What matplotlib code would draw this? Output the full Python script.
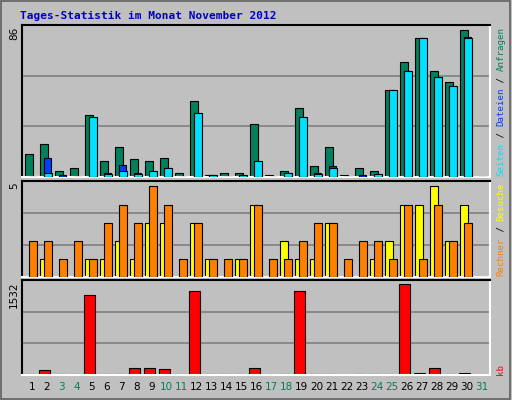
import matplotlib
matplotlib.use("Agg")
import matplotlib.pyplot as plt
from matplotlib.patches import Rectangle
import numpy as np

days = list(range(1, 32))
anfragen = [13,19,3.6,5.3,35.5,9.3,17,10.4,9.3,11,2.5,43.5,1.3,2.5,2.5,30.4,1.3,3.6,39.5,6.5,17,1.3,5.3,3.6,50,65.7,79.3,60.6,54.3,84,0]
dateien  = [0,11,1.3,0,33,2.5,7,2.5,1.5,5.3,0,34,1.3,0,0,7,0,2.5,34,2.5,6.5,0,1.3,1.5,50,60.6,79.3,57,52,80.4,0]
seiten   = [0,2.5,0,0,34.4,1.5,3.6,1.5,3.6,5.3,0,36.6,1.3,0,1.3,9.3,0,2.5,34.4,1.5,5.3,0,0,1.5,50,60.6,79.3,57,52,79.3,0]
besuche  = [0,1,0,0,1,1,2,1,3,3,0,3,1,0,1,4,0,2,1,1,3,0,0,1,2,4,4,5,2,4,0]
rechner  = [2,2,1,2,1,3,4,3,5,4,1,3,1,1,1,4,1,1,2,3,3,1,2,2,1,4,1,4,2,3,0]
kb       = [5,90,5,5,1347,5,5,123,123,106,5,1409,5,5,5,123,0,5,1409,5,5,0,5,5,5,1532,39,123,5,39,0]
weekend  = [3,4,10,11,17,18,24,25,31]

W, H = 512, 400
fig = plt.figure(figsize=(W/100, H/100), dpi=100)
fig.patch.set_facecolor('#C0C0C0')
fig.patches.append(Rectangle((0.002, 0.002), 0.995, 0.995, transform=fig.transFigure,
                             fill=False, edgecolor='#606060', lw=1.2))
mono = 'DejaVu Sans Mono'
x0, x1 = 22/W, 490/W

def mkax(ytop, ybot, ymax):
    ax = fig.add_axes([x0, 1-ybot/H, x1-x0, (ybot-ytop)/H])
    ax.set_facecolor('#C0C0C0')
    ax.set_xlim(0.25, 31.45)
    ax.set_ylim(0, ymax)
    ax.set_xticks([]); ax.set_yticks([])
    for g in (ymax/3, 2*ymax/3):
        ax.axhline(g, color='#808080', lw=1.2, zorder=0)
    ax.spines['top'].set_color('black'); ax.spines['left'].set_color('black')
    ax.spines['bottom'].set_color('white'); ax.spines['right'].set_color('white')
    for s in ax.spines.values(): s.set_linewidth(1.5)
    return ax

d = np.array(days)
ax1 = mkax(25, 177, 87)
ax1.bar(d-0.3, anfragen, 0.5, color='#00805C', edgecolor='black', lw=0.8, zorder=2)
ax1.bar(d-0.06, dateien, 0.5, color='#0040FF', edgecolor='black', lw=0.8, zorder=3)
ax1.bar(d-0.02, seiten, 0.5, color='#00E0FF', edgecolor='black', lw=0.8, zorder=4)

ax2 = mkax(181, 277, 5.3)
ax2.bar(d-0.3, besuche, 0.5, color='#FFFF00', edgecolor='black', lw=0.8, zorder=2)
ax2.bar(d-0.02, rechner, 0.5, color='#FF8000', edgecolor='black', lw=0.8, zorder=3)

ax3 = mkax(280, 375, 1593)
kb_disp = [max(v, 18) if v > 0 else 0 for v in kb]
ax3.bar(d-0.25, kb_disp, 0.7, color='#FF0000', edgecolor='black', lw=0.8, zorder=2)

for i in days:
    ax3.text(i-0.1, -0.13, str(i), transform=ax3.get_xaxis_transform(), ha='center', va='center',
             fontsize=7.5, color='#00805C' if i in weekend else 'black')

fig.text(20/W, 1-16/H, 'Tages-Statistik im Monat November 2012', color='#0000C0',
         fontweight='bold', family=mono, fontsize=8, va='center')
for lab, y in (('86', 27), ('5', 182), ('1532', 282)):
    fig.text(14/W, 1-y/H, lab, rotation=90, ha='center', va='top', fontsize=7.5)

def vlabel(parts, ybottom):
    fs = 6.6
    cw = fs/72*100*0.602
    y = ybottom
    for txt, col in parts:
        fig.text(501/W, 1-y/H, txt, rotation=90, ha='center', va='bottom', family=mono,
                 fontsize=fs, color=col)
        y -= cw*len(txt)

vlabel([('Seiten', '#00E0FF'), (' / ', 'black'), ('Dateien', '#0040FF'), (' / ', 'black'),
        ('Anfragen', '#00805C')], 176)
vlabel([('Rechner', '#FF8000'), (' / ', 'black'), ('Besuche', '#FFFF00')], 276)
vlabel([('kb', '#FF0000')], 375)

fig.savefig('out.png', dpi=100, facecolor=fig.get_facecolor())
